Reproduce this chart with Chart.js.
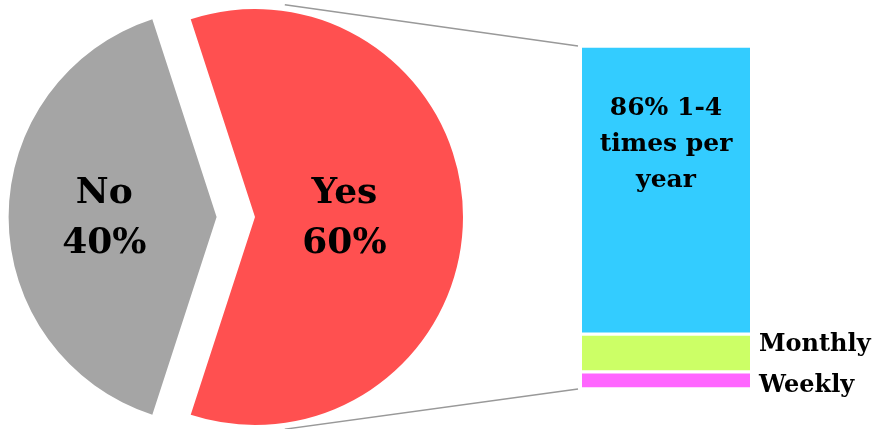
<!DOCTYPE html>
<html>
<head>
<meta charset="utf-8">
<script src="https://cdn.jsdelivr.net/npm/chart.js@4/dist/chart.umd.min.js"></script>
<style>
    html, body { margin: 0; padding: 0; background: #fff; }
    .stage { position: relative; width: 878px; height: 429px; }
    .layer { position: absolute; left: 0; top: 0; width: 878px; height: 429px; }
</style>
</head>
<body>
<div class="stage">
    <div class="layer"><canvas id="pieChart"></canvas></div>
    <div class="layer"><canvas id="barChart"></canvas></div>
</div>
<script>
/* ── Data ── */
const pieLabels = ['No', 'Yes'];
const pieValues = [40, 60];
const barLabels = ['Weekly', 'Monthly', '1-4 times per year'];
const barValues = [5, 11, 84];
const bigLabelLines = ['86% 1-4', 'times per', 'year'];

/* ── Styles ── */
const FONT = "'DejaVu Serif', serif";
const pieColors = ['#a5a5a5', '#ff5050'];
const barColors = ['#ff66ff', '#ccff66', '#33ccff'];
const PIE_EXPLODE = 19.2;
const pieLabelRadius = [0.54, 0.43];

Chart.defaults.font.family = FONT;

/* Push each slice out along its middle angle */
const explodePlugin = {
    id: 'explode',
    afterDatasetsUpdate(chart) {
        chart.getDatasetMeta(0).data.forEach(arc => {
            const mid = (arc.startAngle + arc.endAngle) / 2;
            arc.x += Math.cos(mid) * PIE_EXPLODE;
            arc.y += Math.sin(mid) * PIE_EXPLODE;
        });
    }
};

const pieLabelPlugin = {
    id: 'pieLabels',
    afterDatasetsDraw(chart) {
        const ctx = chart.ctx;
        ctx.save();
        ctx.fillStyle = '#000';
        ctx.font = 'bold 36px ' + FONT;
        ctx.textAlign = 'center';
        ctx.textBaseline = 'alphabetic';
        chart.getDatasetMeta(0).data.forEach((arc, i) => {
            const mid = (arc.startAngle + arc.endAngle) / 2;
            const x = arc.x + Math.cos(mid) * arc.outerRadius * pieLabelRadius[i];
            const y = arc.y + Math.sin(mid) * arc.outerRadius * pieLabelRadius[i];
            ctx.fillText(pieLabels[i], x, y - 14);
            ctx.fillText(pieValues[i] + '%', x, y + 36);
        });
        ctx.restore();
    }
};

const pieChart = new Chart(document.getElementById('pieChart'), {
    type: 'pie',
    data: {
        labels: pieLabels,
        datasets: [{
            data: pieValues,
            backgroundColor: pieColors,
            borderWidth: 0,
        }]
    },
    options: {
        responsive: true,
        maintainAspectRatio: false,
        animation: false,
        rotation: 198,
        layout: { padding: { left: 27.8, right: 434.2, top: 9, bottom: 4 } },
        plugins: {
            legend: { display: false },
            tooltip: { enabled: false }
        }
    },
    plugins: [explodePlugin, pieLabelPlugin]
});

/* Series lines from the Yes slice to the bar, plus bar labels */
const barDecorPlugin = {
    id: 'barDecor',
    afterDatasetsDraw(chart) {
        const ctx = chart.ctx;
        const top = chart.getDatasetMeta(barValues.length - 1).data[0];
        const bottom = chart.getDatasetMeta(0).data[0];
        const left = top.x - top.width / 2;
        const right = top.x + top.width / 2;

        // connector lines
        const arc = pieChart.getDatasetMeta(0).data[1];
        const a = 82 * Math.PI / 180;
        const r = arc.outerRadius * 1.03;
        ctx.save();
        ctx.strokeStyle = '#999';
        ctx.lineWidth = 1.5;
        ctx.beginPath();
        ctx.moveTo(arc.x + Math.cos(-a) * r, arc.y + Math.sin(-a) * r);
        ctx.lineTo(left - 4, top.y);
        ctx.moveTo(arc.x + Math.cos(a) * r, arc.y + Math.sin(a) * r);
        ctx.lineTo(left - 4, bottom.base);
        ctx.stroke();
        ctx.restore();

        // big label inside the top segment
        ctx.save();
        ctx.fillStyle = '#000';
        ctx.font = 'bold 25px ' + FONT;
        ctx.textAlign = 'center';
        ctx.textBaseline = 'alphabetic';
        const segH = top.base - top.y;
        bigLabelLines.forEach((line, i) => {
            ctx.fillText(line, top.x, top.y + segH * 0.24 + i * 36);
        });

        // side labels for the small segments
        ctx.font = 'bold 24px ' + FONT;
        ctx.textAlign = 'left';
        const dy = [12, -2];
        [0, 1].forEach(i => {
            const bar = chart.getDatasetMeta(i).data[0];
            const cy = (bar.y + bar.base) / 2;
            ctx.fillText(barLabels[i], right + 9, cy + dy[i]);
        });
        ctx.restore();
    }
};

new Chart(document.getElementById('barChart'), {
    type: 'bar',
    data: {
        labels: [''],
        datasets: barValues.map((v, i) => ({
            label: barLabels[i],
            data: [v],
            backgroundColor: barColors[i],
            borderColor: '#fff',
            borderWidth: { top: 2, bottom: 2, left: 0, right: 0 },
            borderSkipped: false,
            barPercentage: 1,
            categoryPercentage: 1,
        }))
    },
    options: {
        responsive: true,
        maintainAspectRatio: false,
        animation: false,
        layout: { padding: { left: 582, right: 128, top: 46, bottom: 40 } },
        scales: {
            x: { stacked: true, display: false },
            y: { stacked: true, display: false, min: 0, max: 100 }
        },
        plugins: {
            legend: { display: false },
            tooltip: { enabled: false }
        }
    },
    plugins: [barDecorPlugin]
});
</script>
</body>
</html>
